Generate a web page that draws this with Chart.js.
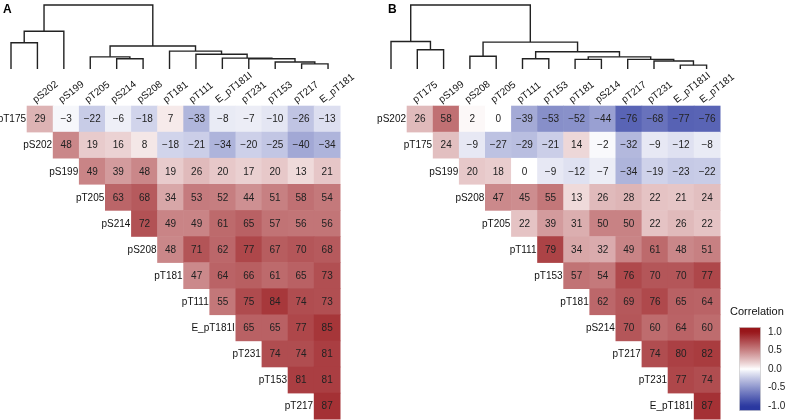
<!DOCTYPE html>
<html>
<head>
<meta charset="utf-8">
<script src="https://cdn.jsdelivr.net/npm/chart.js@4.4.1/dist/chart.umd.min.js"></script>
<style>
  html, body { margin: 0; padding: 0; background: #fff; overflow: hidden; }
  #wrap { position: relative; width: 787px; height: 420px; }
  canvas { position: absolute; }
</style>
</head>
<body>
<div id="wrap">
  <canvas id="panelA"></canvas>
  <canvas id="panelB"></canvas>
  <canvas id="legend"></canvas>
</div>
<script>
Chart.defaults.font.family = "'Liberation Sans', Arial, sans-serif";
Chart.defaults.animation = false;

// Panel A: variable order (rows use 0..11, columns use 1..12)
const varsA = ["pT175", "pS202", "pS199", "pT205", "pS214", "pS208", "pT181",
  "pT111", "E_pT181I", "pT231", "pT153", "pT217", "E_pT181"];
const corrA = [
  [29, -3, -22, -6, -18, 7, -33, -8, -7, -10, -26, -13],
  [48, 19, 16, 8, -18, -21, -34, -20, -25, -40, -34],
  [49, 39, 48, 19, 26, 20, 17, 20, 13, 21],
  [63, 68, 34, 53, 52, 44, 51, 58, 54],
  [72, 49, 49, 61, 65, 57, 56, 56],
  [48, 71, 62, 77, 67, 70, 68],
  [47, 64, 66, 61, 65, 73],
  [55, 75, 84, 74, 73],
  [65, 65, 77, 85],
  [74, 74, 81],
  [81, 81],
  [87],
];
// hclust style merges: -k is leaf k (1-based), positive is an earlier merge
const mergeA = [[-12, -13], [-11, 1], [-10, 2], [-9, 3], [-5, -6], [-4, 5],
  [-8, 4], [-7, 7], [6, 8], [-1, -2], [10, -3], [11, 9]];
const heightA = [0.08, 0.11, 0.16, 0.17, 0.16, 0.19, 0.23, 0.28, 0.36, 0.41, 0.59, 1.0];

// Panel B
const varsB = ["pS202", "pT175", "pS199", "pS208", "pT205", "pT111", "pT153",
  "pT181", "pS214", "pT217", "pT231", "E_pT181I", "E_pT181"];
const corrB = [
  [26, 58, 2, 0, -39, -53, -52, -44, -76, -68, -77, -76],
  [24, -9, -27, -29, -21, 14, -2, -32, -9, -12, -8],
  [20, 18, 0, -9, -12, -7, -34, -19, -23, -22],
  [47, 45, 55, 13, 26, 28, 22, 21, 24],
  [22, 39, 31, 50, 50, 22, 26, 22],
  [79, 34, 32, 49, 61, 48, 51],
  [57, 54, 76, 70, 70, 77],
  [62, 69, 76, 65, 64],
  [70, 60, 64, 60],
  [74, 80, 82],
  [77, 74],
  [87],
];
const mergeB = [[-12, -13], [-11, 1], [-10, 2], [-8, -9], [4, 3], [-6, -7],
  [6, 5], [-4, -5], [8, 7], [-2, -3], [-1, 10], [11, 9]];
const heightB = [0.06, 0.125, 0.15, 0.15, 0.19, 0.16, 0.27, 0.20, 0.42, 0.30, 0.43, 1.0];

const legendTicks = [1, 0.5, 0, -0.5, -1];

// layout (pixels)
const H = 420;
const CELL = 26.1;
const GRID_TOP = 106;
const LEAF_BASE = 69;
const HEIGHT_PX = 64;
const LABEL_ANGLE = 38;
const FONT = "'Liberation Sans', Arial, sans-serif";

const HIGH = [152, 22, 26];
const LOW = [42, 56, 160];

function fillFor(v) {
  const t = Math.pow(Math.min(1, Math.abs(v) / 100), 0.9);
  const end = v >= 0 ? HIGH : LOW;
  const c = end.map((e) => Math.round(255 + (e - 255) * t));
  return `rgb(${c.join(",")})`;
}

function fmt(v) {
  return v < 0 ? "\u2212" + Math.abs(v) : String(v);
}

function dendroLines(merge, height) {
  const pos = [];
  const lines = [];
  const at = (k) => (k < 0 ? { x: -k - 1, h: 0 } : pos[k - 1]);
  merge.forEach(([a, b], i) => {
    const l = at(a);
    const r = at(b);
    const h = height[i];
    lines.push([{ x: l.x, y: l.h }, { x: l.x, y: h }, { x: r.x, y: h }, { x: r.x, y: r.h }]);
    pos.push({ x: (l.x + r.x) / 2, h: h });
  });
  return lines;
}

function cells(corr) {
  const pts = [];
  corr.forEach((row, r) => row.forEach((v, k) => pts.push({ x: r + k, y: r, v: v })));
  return pts;
}

function cellPx(chart) {
  const s = chart.scales.x;
  return Math.abs(s.getPixelForValue(1) - s.getPixelForValue(0));
}

const panelText = {
  id: "panelText",
  afterDatasetsDraw(chart, args, opts) {
    const { ctx } = chart;
    const x = chart.scales.x;
    const y = chart.scales.y;
    const ds = chart.data.datasets[chart.data.datasets.length - 1];
    const meta = chart.getDatasetMeta(chart.data.datasets.length - 1);
    ctx.save();
    ctx.font = "10px " + FONT;
    ctx.fillStyle = "#222";
    ctx.textAlign = "center";
    ctx.textBaseline = "middle";
    meta.data.forEach((pt, i) => {
      ctx.fillText(fmt(ds.data[i].v), pt.x, pt.y + 0.5);
    });

    // row labels sit next to the first cell of each row
    ctx.fillStyle = "#111";
    ctx.textAlign = "right";
    for (let r = 0; r < opts.vars.length - 1; r++) {
      ctx.fillText(opts.vars[r], x.getPixelForValue(r - 0.5) - 1, y.getPixelForValue(r) + 0.5);
    }

    // column labels on top, rotated
    ctx.textAlign = "left";
    for (let c = 0; c < opts.vars.length - 1; c++) {
      ctx.save();
      ctx.translate(x.getPixelForValue(c) - 6, y.getPixelForValue(-0.5) - 5);
      ctx.rotate((-LABEL_ANGLE * Math.PI) / 180);
      ctx.fillText(opts.vars[c + 1], 0, 0);
      ctx.restore();
    }

    ctx.font = "bold 12px " + FONT;
    ctx.fillStyle = "#000";
    ctx.fillText(opts.letter, opts.letterX, 10);
    ctx.restore();
  },
};

function makePanel(id, letter, vars, corr, merge, height, L) {
  const canvas = document.getElementById(id);
  canvas.width = L.width;
  canvas.height = H;
  canvas.style.left = L.left + "px";
  canvas.style.top = "0px";

  const xMin = -(L.gridLeft - L.left) / CELL - 0.5;
  const yMin = -GRID_TOP / CELL - 0.5;
  const xdMin = -(L.leaf0 - L.left) / L.leafStep;
  const ydMax = LEAF_BASE / HEIGHT_PX;

  const datasets = dendroLines(merge, height).map((pts) => ({
    data: pts,
    xAxisID: "xd",
    yAxisID: "yd",
    showLine: true,
    borderColor: "#222",
    borderWidth: 1.4,
    pointRadius: 0,
    tension: 0,
    fill: false,
  }));
  datasets.push({
    data: cells(corr),
    xAxisID: "x",
    yAxisID: "y",
    pointStyle: "rect",
    pointRadius: (c) => (cellPx(c.chart) + 0.6) / Math.SQRT2,
    pointBorderWidth: 0,
    pointBackgroundColor: (c) => fillFor(c.raw.v),
  });

  return new Chart(canvas, {
    type: "scatter",
    data: { datasets: datasets },
    options: {
      responsive: false,
      events: [],
      layout: { padding: 0 },
      plugins: {
        legend: { display: false },
        tooltip: { enabled: false },
        panelText: { vars: vars, letter: letter, letterX: L.letter - L.left },
      },
      scales: {
        x: { type: "linear", display: false, min: xMin, max: xMin + L.width / CELL },
        y: { type: "linear", display: false, reverse: true, min: yMin, max: yMin + H / CELL },
        xd: { type: "linear", axis: "x", display: false, min: xdMin, max: xdMin + L.width / L.leafStep },
        yd: { type: "linear", axis: "y", display: false, min: ydMax - H / HEIGHT_PX, max: ydMax },
      },
    },
    plugins: [panelText],
  });
}

makePanel("panelA", "A", varsA, corrA, mergeA, heightA,
  { left: 0, width: 360, gridLeft: 27, leaf0: 11, leafStep: 26.42, letter: 3 });
makePanel("panelB", "B", varsB, corrB, mergeB, heightB,
  { left: 360, width: 390, gridLeft: 407, leaf0: 391, leafStep: 26.3, letter: 388 });

// colour bar legend
const legendTitle = {
  id: "legendTitle",
  afterDraw(chart) {
    const ctx = chart.ctx;
    ctx.save();
    ctx.font = "11px " + FONT;
    ctx.fillStyle = "#111";
    ctx.textBaseline = "middle";
    ctx.fillText("Correlation", 2, 12);
    ctx.restore();
  },
};

const legendCanvas = document.getElementById("legend");
legendCanvas.width = 59;
legendCanvas.height = 122;
legendCanvas.style.left = "728px";
legendCanvas.style.top = "300px";

const BAR_LIM = 1.13;
new Chart(legendCanvas, {
  type: "bar",
  data: {
    labels: [""],
    datasets: [
      {
        data: [[-BAR_LIM, BAR_LIM]],
        backgroundColor: (c) => {
          const chart = c.chart;
          if (!chart.chartArea) return "#fff";
          const ys = chart.scales.y;
          const g = chart.ctx.createLinearGradient(0, ys.getPixelForValue(-BAR_LIM), 0, ys.getPixelForValue(BAR_LIM));
          for (let i = 0; i <= 40; i++) {
            const v = -BAR_LIM + (2 * BAR_LIM * i) / 40;
            g.addColorStop(i / 40, fillFor(v * 100));
          }
          return g;
        },
        borderColor: "#c8c8c8",
        borderWidth: 0.8,
        borderSkipped: false,
        barPercentage: 0.846,
        categoryPercentage: 1,
      },
    ],
  },
  options: {
    responsive: false,
    events: [],
    layout: { padding: { left: 9, top: 27, bottom: 7, right: 0 } },
    plugins: { legend: { display: false }, tooltip: { enabled: false } },
    scales: {
      x: { display: false },
      y: {
        position: "right",
        min: -BAR_LIM,
        max: BAR_LIM,
        afterBuildTicks: (s) => {
          s.ticks = legendTicks.map((v) => ({ value: v }));
        },
        afterFit: (s) => {
          s.width = 24;
        },
        grid: { display: false, drawTicks: false },
        border: { display: false },
        ticks: {
          padding: 5,
          color: "#222",
          font: { size: 10 },
          callback: (v) => v.toFixed(1),
        },
      },
    },
  },
  plugins: [legendTitle],
});
</script>
</body>
</html>
